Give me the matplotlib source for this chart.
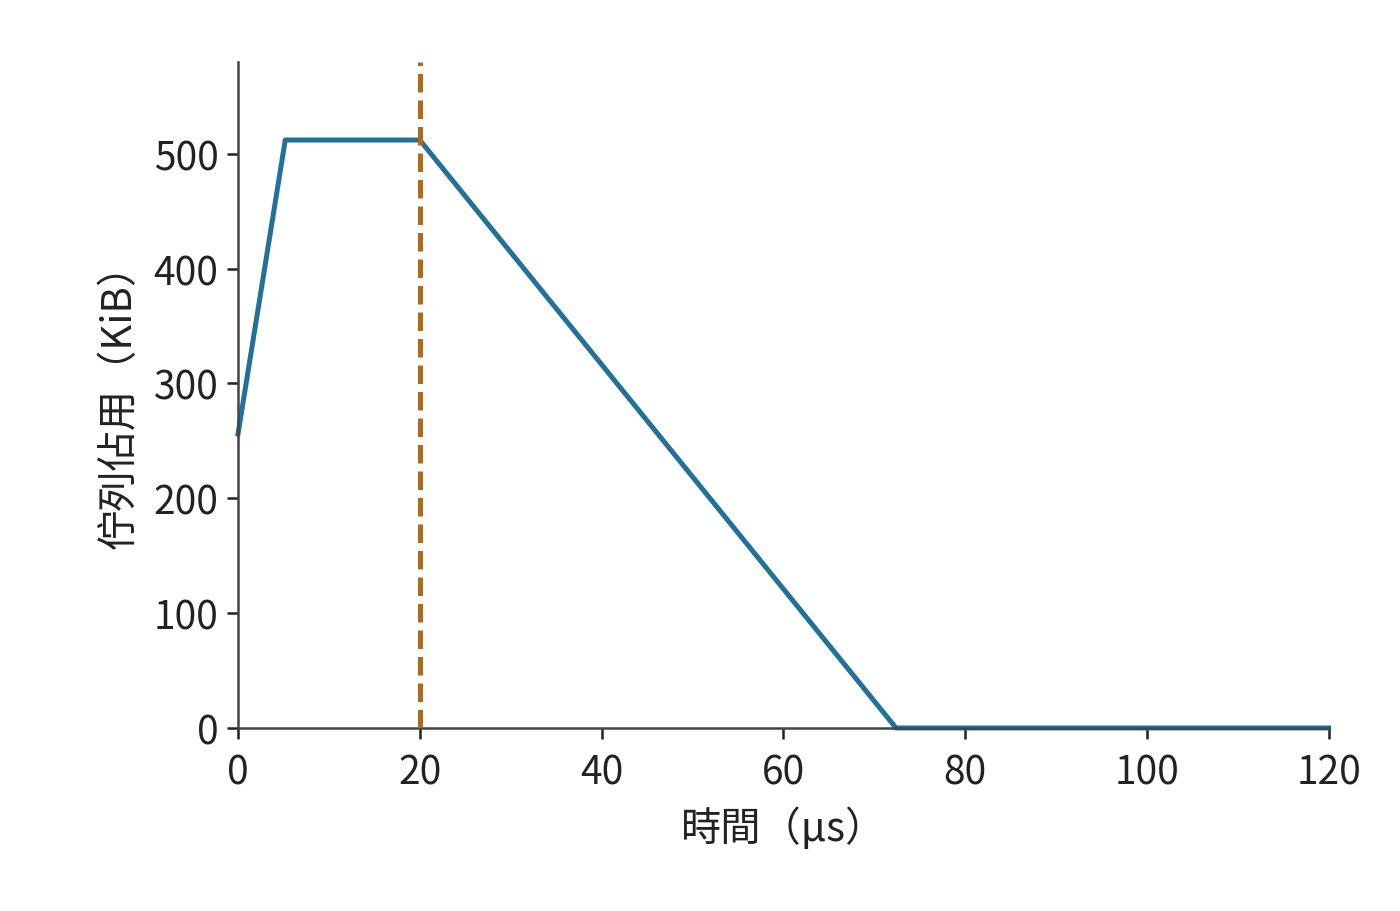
import matplotlib
matplotlib.use("Agg")
import matplotlib.pyplot as plt

plt.rcParams['font.family'] = ['Noto Sans CJK TC', 'DejaVu Sans']

time_us = [0, 5.2, 20, 72.4, 120]
queue_kib = [256, 512, 512, 0, 0]
marker_x = 20
x_ticks = [0, 20, 40, 60, 80, 100, 120]
y_ticks = [0, 100, 200, 300, 400, 500]
xlabel = "時間（μs）"
ylabel = "佇列佔用（KiB）"

fig = plt.figure(figsize=(7, 4.56), dpi=200)
ax = fig.add_axes([0.17, 0.2007, 0.779, 0.7303])

ax.plot(time_us, queue_kib, color="#23709a", lw=1.8, zorder=2, clip_on=False)
ax.axvline(marker_x, color="#a86c28", lw=1.8, ls="--", zorder=3)

ax.set_xlim(0, 120)
ax.set_ylim(0, 580)
ax.set_xticks(x_ticks)
ax.set_yticks(y_ticks)

for s in ["top", "right"]:
    ax.spines[s].set_visible(False)
for s in ["left", "bottom"]:
    ax.spines[s].set_color("#444444")
    ax.spines[s].set_linewidth(0.9)
    ax.spines[s].set_zorder(2.5)

ax.tick_params(direction="out", length=4, width=0.9, color="#222222",
               labelsize=14, labelcolor="#222222")
ax.tick_params(axis="x", pad=5)
ax.tick_params(axis="y", pad=3)
ax.set_xlabel(xlabel, fontsize=14.5, color="#222222", labelpad=5)
ax.set_ylabel(ylabel, fontsize=14.5, color="#222222", labelpad=5)

fig.savefig("out.png", dpi=200)
